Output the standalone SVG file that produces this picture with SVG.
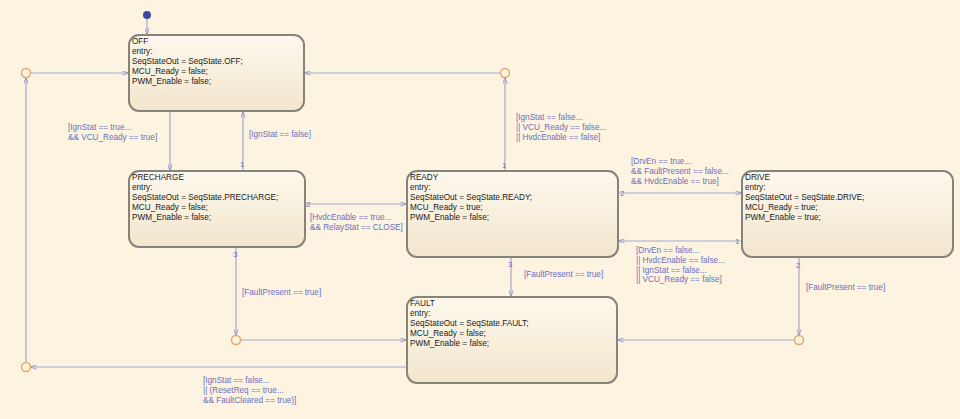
<svg xmlns="http://www.w3.org/2000/svg" width="960" height="419" viewBox="0 0 960 419">
<defs>
<linearGradient id="g" x1="0" y1="0" x2="0" y2="1">
<stop offset="0" stop-color="#fdf8ee"/>
<stop offset="1" stop-color="#f2e6cc"/>
</linearGradient>
<marker id="a" viewBox="0 0 8 6" refX="8" refY="3" markerWidth="7" markerHeight="5" orient="auto" markerUnits="userSpaceOnUse">
<path d="M0,0.5 L8,3 L0,5.5" fill="none" stroke="#8c92c6" stroke-width="1"/>
</marker>
<style>
.st{fill:url(#g);stroke:#85837a;stroke-width:2}
.tx{font-family:"Liberation Sans",Arial,sans-serif;font-size:8.2px;fill:#1a1a1a}
.lb{font-family:"Liberation Sans",Arial,sans-serif;font-size:8.2px;fill:#6a70bf}
.ln{fill:none;stroke:#a4a9d2;stroke-width:1.2}
.j{fill:none;stroke:#e6a86a;stroke-width:1.5}
.n{font-family:"Liberation Sans",Arial,sans-serif;font-size:8px;fill:#6a70bf}
</style>
</defs>
<rect width="960" height="419" fill="#fdf3e1"/>

<g id="connectors">
<circle cx="147" cy="15" r="4" fill="#3b4aa0"/>
<line class="ln" x1="147" y1="19" x2="147" y2="35" marker-end="url(#a)"/>
<line class="ln" x1="30" y1="73" x2="129" y2="73" marker-end="url(#a)"/>
<line class="ln" x1="26" y1="363" x2="26" y2="77" marker-end="url(#a)"/>
<line class="ln" x1="501" y1="73" x2="304" y2="73" marker-end="url(#a)"/>
<line class="ln" x1="505" y1="171" x2="505" y2="77" marker-end="url(#a)"/>
<line class="ln" x1="170" y1="111" x2="170" y2="171" marker-end="url(#a)"/>
<line class="ln" x1="243" y1="171" x2="243" y2="111" marker-end="url(#a)"/>
<line class="ln" x1="305" y1="204" x2="407" y2="204" marker-end="url(#a)"/>
<line class="ln" x1="618" y1="193" x2="742" y2="193" marker-end="url(#a)"/>
<line class="ln" x1="742" y1="241" x2="618" y2="241" marker-end="url(#a)"/>
<line class="ln" x1="799" y1="257" x2="799" y2="336" marker-end="url(#a)"/>
<line class="ln" x1="795" y1="340" x2="617" y2="340" marker-end="url(#a)"/>
<line class="ln" x1="511" y1="257" x2="511" y2="297" marker-end="url(#a)"/>
<line class="ln" x1="236" y1="247" x2="236" y2="336" marker-end="url(#a)"/>
<line class="ln" x1="240" y1="340" x2="407" y2="340" marker-end="url(#a)"/>
<line class="ln" x1="407" y1="367" x2="30" y2="367" marker-end="url(#a)"/>
<circle class="j" cx="26" cy="73" r="4.5"/>
<circle class="j" cx="505" cy="73" r="4.5"/>
<circle class="j" cx="799" cy="340" r="4.5"/>
<circle class="j" cx="236" cy="340" r="4.5"/>
<circle class="j" cx="26" cy="367" r="4.5"/>
<text class="n" x="502" y="168">1</text>
<text class="n" x="240" y="167">1</text>
<text class="n" x="306" y="207">2</text>
<text class="n" x="620" y="196">2</text>
<text class="n" x="735" y="244">1</text>
<text class="n" x="796" y="268">2</text>
<text class="n" x="508" y="267">3</text>
<text class="n" x="233" y="257">3</text>
<text class="lb" x="68" y="130">[IgnStat == true...</text>
<text class="lb" x="68" y="140">&amp;&amp; VCU_Ready == true]</text>
<text class="lb" x="249" y="137">[IgnStat == false]</text>
<text class="lb" x="516" y="120">[IgnStat == false...</text>
<text class="lb" x="516" y="130">|| VCU_Ready == false...</text>
<text class="lb" x="516" y="140">|| HvdcEnable == false]</text>
<text class="lb" x="310" y="220">[HvdcEnable == true...</text>
<text class="lb" x="310" y="230">&amp;&amp; RelayStat == CLOSE]</text>
<text class="lb" x="631" y="164">[DrvEn == true...</text>
<text class="lb" x="631" y="174">&amp;&amp; FaultPresent == false...</text>
<text class="lb" x="631" y="184">&amp;&amp; HvdcEnable == true]</text>
<text class="lb" x="636" y="253">[DrvEn == false...</text>
<text class="lb" x="636" y="263">|| HvdcEnable == false...</text>
<text class="lb" x="636" y="273">|| IgnStat == false...</text>
<text class="lb" x="636" y="282">|| VCU_Ready == false]</text>
<text class="lb" x="806" y="290">[FaultPresent == true]</text>
<text class="lb" x="524" y="277">[FaultPresent == true]</text>
<text class="lb" x="242" y="295">[FaultPresent == true]</text>
<text class="lb" x="203" y="383">[IgnStat == false...</text>
<text class="lb" x="203" y="393">|| (ResetReq == true...</text>
<text class="lb" x="203" y="403">&amp;&amp; FaultCleared == true)]</text>
</g>

<g id="OFF">
<rect class="st" x="129" y="35" width="175" height="76" rx="10"/>
<text class="tx" x="132" y="44">OFF</text>
<text class="tx" x="132" y="54">entry:</text>
<text class="tx" x="132" y="64">SeqStateOut = SeqState.OFF;</text>
<text class="tx" x="132" y="74">MCU_Ready = false;</text>
<text class="tx" x="132" y="84">PWM_Enable = false;</text>
</g>

<g id="PRECHARGE">
<rect class="st" x="129" y="171" width="176" height="76" rx="10"/>
<text class="tx" x="132" y="180">PRECHARGE</text>
<text class="tx" x="132" y="190">entry:</text>
<text class="tx" x="132" y="200">SeqStateOut = SeqState.PRECHARGE;</text>
<text class="tx" x="132" y="210">MCU_Ready = false;</text>
<text class="tx" x="132" y="220">PWM_Enable = false;</text>
</g>

<g id="READY">
<rect class="st" x="407" y="171" width="211" height="86" rx="10"/>
<text class="tx" x="410" y="180">READY</text>
<text class="tx" x="410" y="190">entry:</text>
<text class="tx" x="410" y="200">SeqStateOut = SeqState.READY;</text>
<text class="tx" x="410" y="210">MCU_Ready = true;</text>
<text class="tx" x="410" y="220">PWM_Enable = false;</text>
</g>

<g id="DRIVE">
<rect class="st" x="742" y="171" width="211" height="86" rx="10"/>
<text class="tx" x="745" y="180">DRIVE</text>
<text class="tx" x="745" y="190">entry:</text>
<text class="tx" x="745" y="200">SeqStateOut = SeqState.DRIVE;</text>
<text class="tx" x="745" y="210">MCU_Ready = true;</text>
<text class="tx" x="745" y="220">PWM_Enable = true;</text>
</g>

<g id="FAULT">
<rect class="st" x="407" y="297" width="210" height="86" rx="10"/>
<text class="tx" x="410" y="306">FAULT</text>
<text class="tx" x="410" y="316">entry:</text>
<text class="tx" x="410" y="326">SeqStateOut = SeqState.FAULT;</text>
<text class="tx" x="410" y="336">MCU_Ready = false;</text>
<text class="tx" x="410" y="346">PWM_Enable = false;</text>
</g>
</svg>
